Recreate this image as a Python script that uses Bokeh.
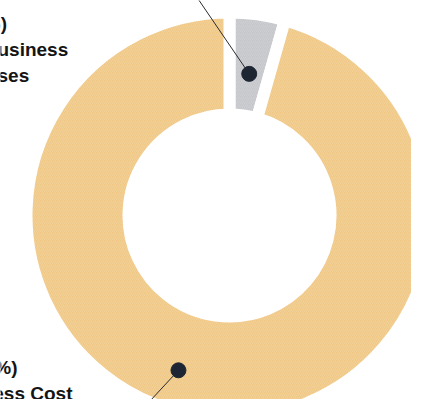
import math
from bokeh.plotting import figure
from bokeh.models import Range1d, ColumnDataSource
from bokeh.core.properties import value
from bokeh.embed import file_html
from bokeh.resources import INLINE

# ---- data ----
categories = ["Non-Business Expenses", "Business Cost Expenses"]
shares = [4.40, 95.60]
label_lines = [["(4.40%)", "Non-Business", "Expenses"],
               ["(95.60%)", "Business Cost", "Expenses"]]
colors = ["#C5C7CB", "#F0C988"]

# ---- layout (screen pixels; y measured downward from top) ----
W, H = 411, 399
CX, CY = 229, 215
R_IN, R_OUT = 101, 203
GAP = 12

def Y(ypage):
    return H - ypage

p = figure(width=W, height=H, output_backend="svg", toolbar_location=None,
           x_range=Range1d(0, W), y_range=Range1d(0, H),
           min_border=0, background_fill_color="white", border_fill_color="white")
p.axis.visible = False
p.grid.visible = False
p.outline_line_color = None

total = sum(shares)
starts, ends = [], []
acc = 0.0
for s in shares:
    a0 = acc / total * 360.0
    acc += s
    a1 = acc / total * 360.0
    # clockwise-from-top degrees -> bokeh radians (anticlockwise from +x)
    starts.append(math.radians(90 - a1))
    ends.append(math.radians(90 - a0))

src = ColumnDataSource(dict(start=starts, end=ends, color=colors, cat=categories))
p.annular_wedge(x=CX, y=Y(CY), inner_radius=R_IN, outer_radius=R_OUT,
                start_angle="start", end_angle="end", source=src,
                fill_color="color", line_color="white", line_width=GAP,
                hatch_pattern="right_diagonal_line", hatch_color="white",
                hatch_alpha=0.12, hatch_scale=4, hatch_weight=1)

# label dots and leader lines
label_frac = [0.5, 0.53]
label_r = [143, 163]
leader_dir = [(-58, -85), (-51, 55)]
acc = 0.0
dx, dy = [], []
for i, s in enumerate(shares):
    a0 = acc / total * 360.0
    acc += s
    a1 = acc / total * 360.0
    a = math.radians(a0 + (a1 - a0) * label_frac[i])
    px = CX + label_r[i] * math.sin(a)
    py = CY - label_r[i] * math.cos(a)
    dx.append(px)
    dy.append(Y(py))
    ldx, ldy = leader_dir[i]
    p.line([px, px + ldx], [Y(py), Y(py + ldy)], line_color="#2b2b2b", line_width=1)
p.scatter(dx, dy, size=15, fill_color="#1F2633", line_color="#1F2633")

# labels (left aligned, partly off-canvas as in the reference)
label_x = -60
label_base = [23, 367]
for i, lines in enumerate(label_lines):
    ys = [Y(label_base[i] + 26 * k) for k in range(len(lines))]
    p.text(x=[label_x] * len(lines), y=ys, text=lines,
           text_font=value("Liberation Sans"), text_font_style="bold",
           text_font_size="19px", text_color="#141414",
           text_align="left", text_baseline="alphabetic")

open("out.html", "w").write(file_html(p, INLINE))
